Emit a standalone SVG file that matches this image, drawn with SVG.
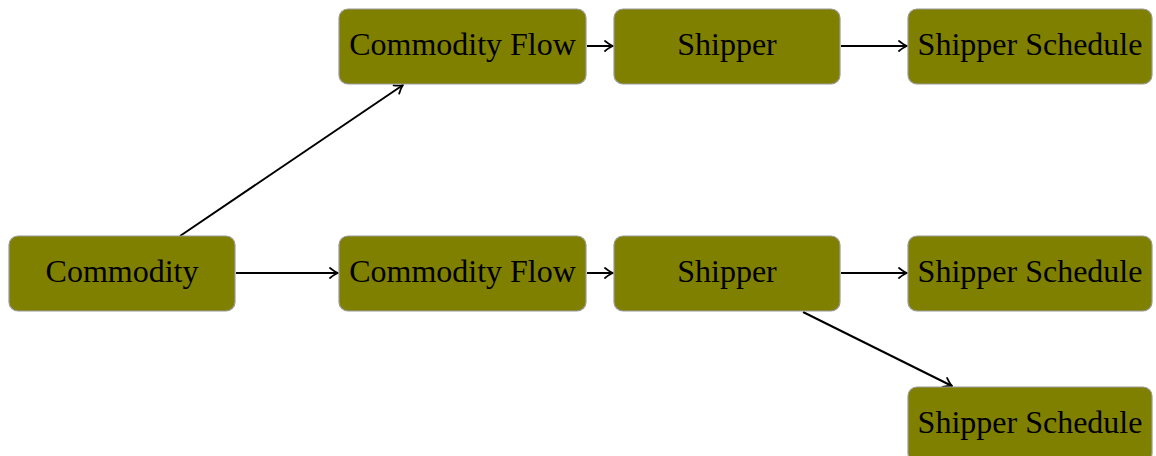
<svg xmlns="http://www.w3.org/2000/svg" width="1156" height="456" viewBox="0 0 1156 456">
  <style>
    .box { fill: #808000; stroke: #9a9a9a; stroke-width: 1.2; }
    .lbl { font-family: "Liberation Serif", "DejaVu Serif", serif; font-size: 32px; fill: #000; text-anchor: middle; }
    .edge { stroke: #000; stroke-width: 2; fill: none; marker-end: url(#tip); }
  </style>
  <defs>
    <marker id="tip" viewBox="-10 -6 12 12" refX="0" refY="0" markerWidth="12" markerHeight="12" markerUnits="userSpaceOnUse" orient="auto">
      <path d="M -8 -5 Q -3 -1 0 0 Q -3 1 -8 5" fill="none" stroke="#000" stroke-width="1.8" stroke-linecap="round" stroke-linejoin="round"/>
    </marker>
  </defs>

  <g id="connectors">
    <line class="edge" x1="180" y1="236" x2="403" y2="85"/>
    <line class="edge" x1="236" y1="273" x2="338" y2="273"/>
    <line class="edge" x1="587" y1="46" x2="613" y2="46"/>
    <line class="edge" x1="841" y1="46" x2="907" y2="46"/>
    <line class="edge" x1="587" y1="273" x2="613" y2="273"/>
    <line class="edge" x1="841" y1="273" x2="907" y2="273"/>
    <line class="edge" x1="803" y1="312" x2="952" y2="386"/>
  </g>

  <g id="commodity">
    <rect class="box" x="9" y="236" width="226" height="75" rx="9"/>
    <text class="lbl" x="122" y="282">Commodity</text>
  </g>
  <g id="flow-top">
    <rect class="box" x="339" y="9" width="247" height="75" rx="9"/>
    <text class="lbl" x="462.5" y="55">Commodity Flow</text>
  </g>
  <g id="shipper-top">
    <rect class="box" x="614" y="9" width="226" height="75" rx="9"/>
    <text class="lbl" x="727" y="55">Shipper</text>
  </g>
  <g id="schedule-top">
    <rect class="box" x="908" y="9" width="244" height="75" rx="9"/>
    <text class="lbl" x="1030" y="55">Shipper Schedule</text>
  </g>
  <g id="flow-mid">
    <rect class="box" x="339" y="236" width="247" height="75" rx="9"/>
    <text class="lbl" x="462.5" y="282">Commodity Flow</text>
  </g>
  <g id="shipper-mid">
    <rect class="box" x="614" y="236" width="226" height="75" rx="9"/>
    <text class="lbl" x="727" y="282">Shipper</text>
  </g>
  <g id="schedule-mid">
    <rect class="box" x="908" y="236" width="244" height="75" rx="9"/>
    <text class="lbl" x="1030" y="282">Shipper Schedule</text>
  </g>
  <g id="schedule-low">
    <rect class="box" x="908" y="387" width="244" height="75" rx="9"/>
    <text class="lbl" x="1030" y="433">Shipper Schedule</text>
  </g>
</svg>
